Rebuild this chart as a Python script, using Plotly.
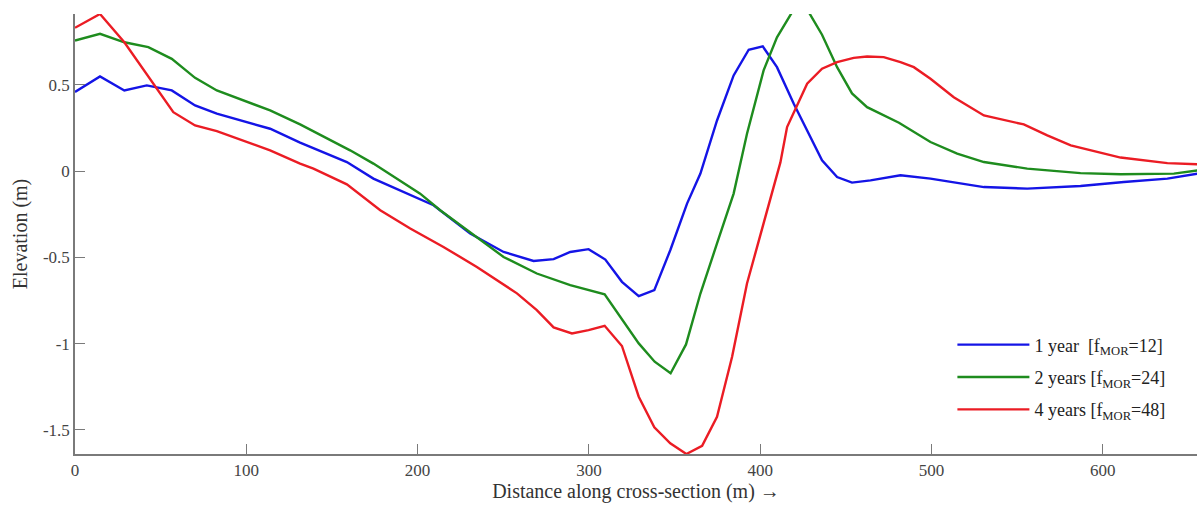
import plotly.graph_objects as go

# Cross-section profiles: distance (m) and elevation (m)
x_1yr = [0, 14.6, 28.8, 41.9, 56.5, 70.1, 82.8, 113.9, 131.4, 158.7, 174.2, 209.3,
         230.7, 250.2, 267.7, 279.4, 289.1, 299.8, 309.6, 319.3, 329.1, 338.2, 347.5,
         357.3, 365.1, 374.8, 384.5, 393.3, 401.5, 409.8, 419.6, 428.4, 436.1, 444.9,
         453.6, 464.4, 481.9, 499.4, 515.0, 530.6, 555.9, 587.0, 612.3, 637.7, 655.4]
z_1yr = [0.458, 0.548, 0.467, 0.496, 0.467, 0.380, 0.332, 0.245, 0.165, 0.052, -0.044, -0.198,
         -0.362, -0.469, -0.521, -0.511, -0.469, -0.453, -0.513, -0.642, -0.725, -0.690, -0.459,
         -0.189, -0.015, 0.293, 0.554, 0.703, 0.722, 0.602, 0.390, 0.216, 0.062, -0.035,
         -0.067, -0.054, -0.025, -0.044, -0.069, -0.093, -0.102, -0.087, -0.064, -0.044, -0.015]

x_2yr = [0, 14.6, 28.8, 42.8, 56.5, 70.1, 82.8, 113.9, 131.4, 160.6, 174.2, 189.8, 201.5,
         213.2, 230.7, 250.2, 269.6, 289.1, 309.2, 318.4, 329.1, 338.4, 347.7, 356.7, 365.1,
         374.8, 384.5, 392.3, 402.0, 409.8, 419.2, 427.8, 436.1, 444.9, 453.6, 462.4, 481.0,
         499.4, 515.0, 530.6, 555.9, 587.0, 610.4, 641.5, 655.4]
z_2yr = [0.756, 0.795, 0.746, 0.718, 0.650, 0.540, 0.467, 0.351, 0.270, 0.120, 0.043, -0.054, -0.131,
         -0.227, -0.353, -0.498, -0.594, -0.661, -0.714, -0.845, -0.999, -1.105, -1.172, -1.005, -0.710,
         -0.420, -0.131, 0.216, 0.583, 0.775, 0.93, 0.93, 0.790, 0.602, 0.450, 0.370, 0.280,
         0.168, 0.101, 0.052, 0.014, -0.012, -0.019, -0.015, 0.004]

x_4yr = [0, 14.6, 28.8, 57.4, 70.1, 82.8, 113.9, 131.4, 139.2, 158.7, 178.2, 195.7, 215.1,
         234.6, 258.0, 269.6, 279.4, 290.1, 299.8, 309.2, 319.3, 329.1, 338.2, 347.5, 356.9,
         366.1, 374.8, 383.6, 392.3, 402.0, 411.8, 415.7, 427.4, 436.1, 444.9, 454.6, 462.4,
         472.1, 481.9, 489.7, 499.4, 513.0, 530.6, 553.9, 567.6, 581.3, 610.4, 637.7, 655.4]
z_4yr = [0.830, 0.91, 0.746, 0.341, 0.264, 0.231, 0.120, 0.043, 0.014, -0.077, -0.227, -0.333, -0.440,
         -0.556, -0.709, -0.806, -0.906, -0.941, -0.922, -0.897, -1.014, -1.308, -1.485, -1.578, -1.64,
         -1.593, -1.424, -1.076, -0.652, -0.304, 0.050, 0.255, 0.506, 0.593, 0.631, 0.656, 0.664,
         0.660, 0.631, 0.602, 0.535, 0.428, 0.322, 0.270, 0.207, 0.149, 0.078, 0.046, 0.039]

series = [
    ("1 year  [f<sub>MOR</sub>=12]", x_1yr, z_1yr, "#1414e6"),
    ("2 years [f<sub>MOR</sub>=24]", x_2yr, z_2yr, "#1e8c1e"),
    ("4 years [f<sub>MOR</sub>=48]", x_4yr, z_4yr, "#eb1c24"),
]

x_ticks = [0, 100, 200, 300, 400, 500, 600]
y_ticks = [-1.5, -1, -0.5, 0, 0.5]
y_tick_text = ["-1.5", "-1", "-0.5", "0", "0.5"]

FONT = "Liberation Serif, Times New Roman, serif"

fig = go.Figure()
for i, (name, xs, zs, color) in enumerate(series):
    fig.add_trace(go.Scatter(x=xs, y=zs, mode="lines", name=name,
                             legendgroup=f"g{i}",
                             line=dict(color=color, width=2.4)))

axis_common = dict(
    showline=True, linecolor="#7a7a7a", linewidth=1.5,
    ticks="inside", ticklen=10, tickwidth=1.3, tickcolor="#7a7a7a",
    showgrid=False, zeroline=False,
    tickfont=dict(family=FONT, size=17, color="#444444"),
)

fig.update_xaxes(range=[0, 655], tickvals=x_ticks,
                 title=dict(text="Distance along cross-section (m) \u2192",
                            font=dict(family=FONT, size=20, color="#333333"), standoff=5),
                 **axis_common)
fig.update_yaxes(range=[-1.64, 0.91], tickvals=y_ticks, ticktext=y_tick_text,
                 title=dict(text="Elevation (m)",
                            font=dict(family=FONT, size=20, color="#333333"), standoff=10),
                 **axis_common)

fig.update_layout(
    width=1197, height=511,
    margin=dict(l=75, r=0, t=14, b=57),
    paper_bgcolor="white", plot_bgcolor="white",
    font=dict(family=FONT, color="#222222"),
    legend=dict(x=0.782, y=0.29, xanchor="left", yanchor="top",
                bgcolor="rgba(255,255,255,0)",
                font=dict(family=FONT, size=18, color="#222222"),
                itemwidth=72, tracegroupgap=6),
)

fig.write_html("out.html")
